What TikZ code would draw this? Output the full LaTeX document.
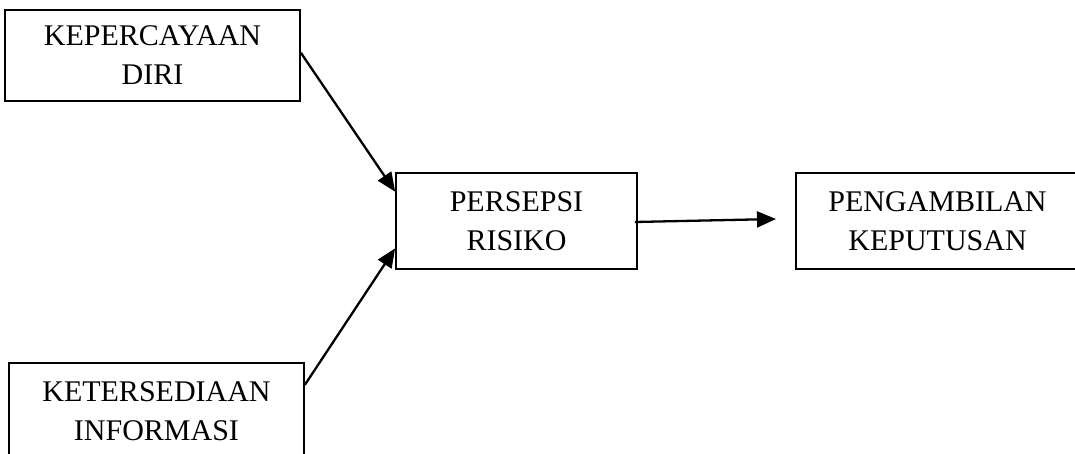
\documentclass[tikz,border=0pt]{standalone}
\usepackage{fontspec}
\setmainfont{Liberation Serif}
\usetikzlibrary{arrows.meta,calc}
\begin{document}
\begin{tikzpicture}[x=1pt,y=-1pt,
  box/.style={draw=black,line width=1.7pt,inner sep=0pt,align=center,
    font=\fontsize{30}{39}\selectfont},
  link/.style={line width=2.3pt,-{Triangle[length=19pt,width=16pt]}}]
\useasboundingbox (0,0) rectangle (1075,454);
\clip (0,0) rectangle (1075,454);
\node[box,minimum width=295pt,minimum height=91pt] (b1) at (152.5,55.5) {KEPERCAYAAN\\DIRI};
\node[box,minimum width=241pt,minimum height=96pt] (b2) at (516.5,221) {PERSEPSI\\RISIKO};
\node[box,minimum width=283pt,minimum height=96pt] (b3) at (937.5,221) {PENGAMBILAN\\KEPUTUSAN};
\node[box,minimum width=295pt,minimum height=97pt] (b4) at (156.5,411.5) {KETERSEDIAAN\\INFORMASI};
\coordinate (a3end) at (776,219);
\draw[link] ($(b1.north east)!0.47!(b1.south east)$) -- ($(b2.north west)!0.2!(b2.south west)$);
\draw[link] ($(b4.north east)!0.23!(b4.south east)$) -- ($(b2.north west)!0.78!(b2.south west)$);
\draw[link] ($(b2.east)+(-3,1)$) -- (a3end);
\end{tikzpicture}
\end{document}
